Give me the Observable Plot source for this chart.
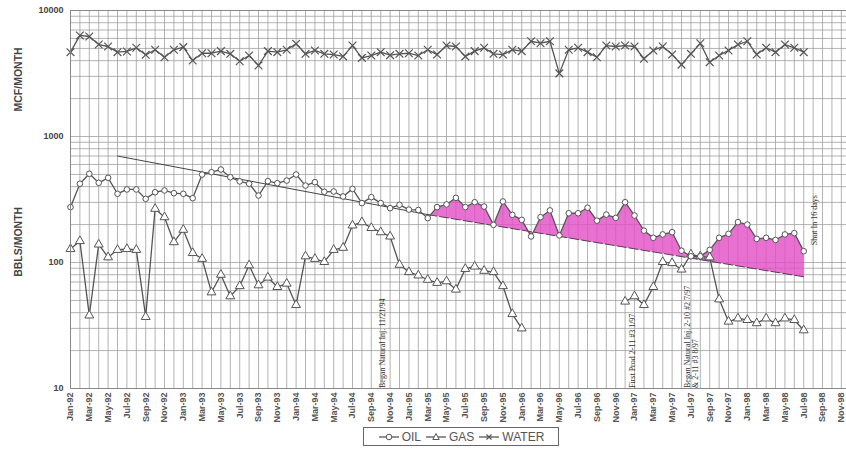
<!DOCTYPE html>
<html><head><meta charset="utf-8">
<script src="https://cdn.jsdelivr.net/npm/d3@7"></script>
<script src="https://cdn.jsdelivr.net/npm/@observablehq/plot@0.6"></script>
<style>
body{margin:0;background:#fff;font-family:"Liberation Sans",Arial,sans-serif;}
#wrap{position:relative;width:846px;height:452px;overflow:hidden;}
#legend{position:absolute;left:363px;top:427px;width:196px;height:19px;border:1px solid #666;display:flex;align-items:center;justify-content:center;gap:4px;font-size:12px;color:#555;box-sizing:border-box;}
#legend span{display:inline-flex;align-items:center;gap:2px;}
</style></head><body>
<div id="wrap"><div id="chart"></div><div id="legend"></div></div>
<script>
// Tick labels every two months, Jan-92 .. Nov-98
const tickLabels = ["Jan-92","Mar-92","May-92","Jul-92","Sep-92","Nov-92",
  "Jan-93","Mar-93","May-93","Jul-93","Sep-93","Nov-93",
  "Jan-94","Mar-94","May-94","Jul-94","Sep-94","Nov-94",
  "Jan-95","Mar-95","May-95","Jul-95","Sep-95","Nov-95",
  "Jan-96","Mar-96","May-96","Jul-96","Sep-96","Nov-96",
  "Jan-97","Mar-97","May-97","Jul-97","Sep-97","Nov-97",
  "Jan-98","Mar-98","May-98","Jul-98","Sep-98","Nov-98"];
const yTickLabels = [10, 100, 1000, 10000];

// Monthly values from Jan-92 (index 0) to Jul-98 (index 78)
const oil = [275,422,506,429,470,351,380,380,320,361,
  373,355,351,324,499,521,547,475,440,422,
  340,442,426,447,499,408,434,364,366,334,
  384,296,330,296,270,287,263,261,225,275,
  289,326,275,301,278,199,305,239,218,161,
  229,259,164,246,246,272,215,240,226,301,
  236,179,157,167,174,124,112,112,126,157,
  169,209,200,154,157,151,167,171,123];
const gas = [128,148,38,139,110,126,128,126,37,267,
  229,145,182,119,107,58,80,54,65,95,
  66,76,64,68,46,112,107,101,126,131,
  197,209,188,174,161,96,84,79,73,69,
  71,61,89,93,86,84,65,39,30,null,
  null,null,null,null,null,null,null,null,null,49,
  54,46,64,101,99,88,116,112,110,51,
  34,36,35,33,36,33,36,35,29];
const water = [4670,6340,6220,5370,5180,4670,4730,5060,4450,4880,
  4260,4880,5120,4010,4580,4580,4760,4530,3960,4390,
  3660,4760,4670,4880,5440,4530,4820,4530,4470,4320,
  5270,4210,4390,4670,4420,4530,4580,4390,4880,4470,
  5270,5180,4320,4760,5060,4530,4470,4880,4760,5700,
  5500,5700,3170,4880,5060,4670,4260,5270,5180,5270,
  5180,4140,4820,5180,4470,3720,4530,5500,3890,4390,
  4820,5370,5700,4470,5060,4670,5370,5060,4670];

// Decline trend lines (month index, value)
const trendSolidMonths = [5, 38];
const trendSolidValues = [700, 240];
const trendDashMonths = [38, 78];
const trendDashValues = [240, 77];

// Annotations
const notes = [
  {m: 33.2, v: 10, text: "Began Natural Inj. 11/21/94", dy: -4},
  {m: 59.8, v: 10, text: "First Prod 2-11 #3 1/97", dy: -1},
  {m: 65.7, v: 10, text: "Began Natural Inj. 2-10 #2 7/97", dy: -4},
  {m: 66.5, v: 10, text: "& 2-11 #3 8/97", dy: -2},
  {m: 79.2, v: 136, text: "Shut In 16 days", dy: 0}
];

const rows = oil.map((v, i) => ({m: i, oil: v, gas: gas[i], water: water[i]}));
const gasRows = rows.filter(d => d.gas != null);
const solidTrend = trendSolidMonths.map((m, i) => ({m, v: trendSolidValues[i]}));
const dashTrend = trendDashMonths.map((m, i) => ({m, v: trendDashValues[i]}));
// polygon: oil above the dashed trend
const fillPoly = rows.filter(d => d.m >= trendDashMonths[0]).map(d => ({m: d.m, v: d.oil}))
  .concat(dashTrend.slice().reverse());

const monthGrid = d3.range(0, 83);
const logGrid = [];
for (const dec of [10, 100, 1000]) for (let k = 1; k <= 9; k++) logGrid.push(dec * k);
logGrid.push(10000);

const ink = "#555";
const chart = Plot.plot({
  width: 846, height: 422,
  marginLeft: 70, marginRight: 0, marginTop: 10, marginBottom: 34,
  style: {fontFamily: "'Liberation Sans', Arial, sans-serif", background: "#fff"},
  x: {type: "linear", domain: [0, 82.55], axis: null},
  y: {type: "log", domain: [10, 10000], axis: null},
  marks: [
    Plot.ruleX(monthGrid, {x: d => d, stroke: "#a0a0a0", strokeWidth: 0.8}),
    Plot.ruleY(logGrid, {y: d => d, stroke: "#a0a0a0", strokeWidth: 0.8}),
    Plot.line(fillPoly, {x: "m", y: "v", fill: "#e24cc6", fillOpacity: 0.8, stroke: "none", curve: "linear"}),
    Plot.line(solidTrend, {x: "m", y: "v", stroke: "#444", strokeWidth: 1}),
    Plot.line(dashTrend, {x: "m", y: "v", stroke: "#5a3a55", strokeWidth: 1, strokeDasharray: "9,3"}),
    Plot.line(rows, {x: "m", y: "water", stroke: ink, strokeWidth: 1.3}),
    Plot.dot(rows, {x: "m", y: "water", symbol: "times", r: 3.6, stroke: ink, strokeWidth: 1.2}),
    Plot.line(rows, {x: "m", y: "gas", stroke: ink, strokeWidth: 1.3}),
    Plot.dot(gasRows, {x: "m", y: "gas", symbol: "triangle", r: 3.3, fill: "white", stroke: ink, strokeWidth: 1}),
    Plot.line(rows, {x: "m", y: "oil", stroke: ink, strokeWidth: 1.3}),
    Plot.dot(rows, {x: "m", y: "oil", symbol: "circle", r: 2.8, fill: "white", stroke: ink, strokeWidth: 1}),
    Plot.axisX({ticks: d3.range(0, 83, 2), tickFormat: d => tickLabels[d / 2], tickRotate: -90,
      tickSize: 0, tickPadding: 4, fontSize: 9, fontWeight: "bold", fill: "#555", label: null}),
    Plot.axisY({ticks: yTickLabels, tickFormat: d => String(d), tickSize: 0, tickPadding: 7,
      fontSize: 9, fontWeight: "bold", fill: "#444", label: null}),
    Plot.text(["MCF/MONTH"], {frameAnchor: "left", y: [1580], dx: -52, rotate: -90, fontSize: 10.5, fontWeight: "bold", fill: "#444"}),
    Plot.text(["BBLS/MONTH"], {frameAnchor: "left", y: [77], dx: -52, rotate: -90, fontSize: 10.5, fontWeight: "bold", fill: "#444"}),
    Plot.text(notes, {x: "m", y: "v", text: "text", dy: "dy", rotate: -90, textAnchor: "start",
      fontSize: 8, fontFamily: "'Liberation Serif', serif", fill: "#333"}),
    Plot.frame({stroke: "#888", strokeWidth: 1})
  ]
});
document.getElementById("chart").appendChild(chart);

// Legend
const legendItems = [["OIL", "circle"], ["GAS", "triangle"], ["WATER", "times"]];
const lg = document.getElementById("legend");
for (const [name, sym] of legendItems) {
  const s = document.createElement("span");
  let m;
  if (sym === "circle") m = '<circle cx="11" cy="6" r="2.8" fill="white" stroke="#555"/>';
  else if (sym === "triangle") m = '<path d="M11,2.5 L14.2,8.5 L7.8,8.5 Z" fill="white" stroke="#555"/>';
  else m = '<path d="M8.5,3.5 L13.5,8.5 M13.5,3.5 L8.5,8.5" stroke="#555" stroke-width="1.2"/>';
  s.innerHTML = '<svg width="22" height="12"><line x1="1" y1="6" x2="21" y2="6" stroke="#555" stroke-width="1.3"/>' + m + '</svg>' + name;
  lg.appendChild(s);
}
</script>
</body></html>
